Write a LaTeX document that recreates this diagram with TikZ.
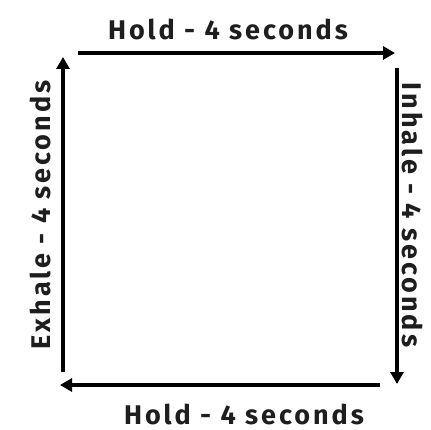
\documentclass[tikz,border=0pt]{standalone}
\usepackage{fontspec}
\setmainfont{Fira Sans}
\newfontfamily\handfont[LetterSpace=11]{Fira Sans}
\usetikzlibrary{arrows.meta}
\definecolor{inkgray}{HTML}{1E1E1E}
\tikzset{
  phase/.style={font=\handfont\fontsize{27}{30}\selectfont\bfseries, text=inkgray, inner sep=0pt},
  flow/.style={line width=3.4pt, draw=black, -{Triangle[length=12pt,width=13pt]}}
}
\begin{document}
\begin{tikzpicture}[x=1pt,y=-1pt]
\useasboundingbox (0,0) rectangle (431,430);
% corners of the square
\coordinate (TL) at (78,53);
\coordinate (TR) at (395,53);
\coordinate (RT) at (397,68);
\coordinate (RB) at (397,384);
\coordinate (BR) at (380,385);
\coordinate (BL) at (60,385);
\coordinate (LB) at (63,372);
\coordinate (LT) at (63,57);
% arrows
\draw[flow] (TL) -- (TR);
\draw[flow] (RT) -- (RB);
\draw[flow] (BR) -- (BL);
\draw[flow] (LB) -- (LT);
% labels
\node[phase] (holdtop) at (228,29) {Hold - 4 seconds};
\node[phase, rotate=-90] (inhale) at (413,215) {Inhale - 4 seconds};
\node[phase] (holdbot) at (244,414) {Hold - 4 seconds};
\node[phase, rotate=90] (exhale) at (40,215) {Exhale - 4 seconds};
\end{tikzpicture}
\end{document}
